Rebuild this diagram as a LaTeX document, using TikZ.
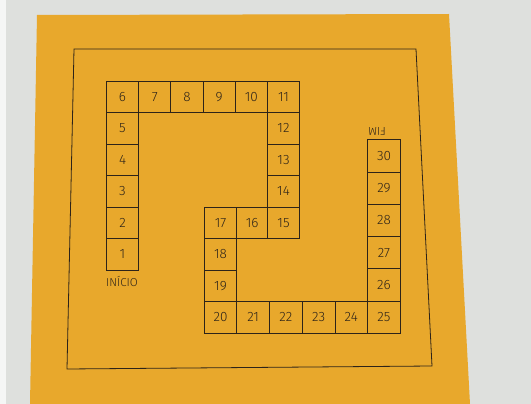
\documentclass[tikz,border=0pt]{standalone}
\usepackage{fontspec}
\setmainfont{Fira Sans Light}
\begin{document}
\begin{tikzpicture}[x=1pt,y=-1pt,
  cell/.style={draw=ink,line width=0.8pt,minimum width=32.2pt,minimum height=31.5pt,inner sep=0pt,font=\fontsize{13.5}{13.5}\selectfont,text=ink},
  wcell/.style={cell,minimum width=32.7pt},
  ncell/.style={cell,minimum width=30.55pt},
  tcell/.style={cell,minimum height=32.3pt,minimum width=32.7pt},
  lbl/.style={font=\fontsize{11.5}{11.5}\selectfont,text=ink,inner sep=0pt}]
\definecolor{paper}{RGB}{232,168,44}
\definecolor{bg}{RGB}{222,224,221}
\definecolor{ink}{RGB}{45,35,25}
\useasboundingbox (0,0) rectangle (531,404);
\fill[bg] (0,0) rectangle (531,404);
\fill[white!70!bg] (0,0) rectangle (6,404);
\fill[paper] (37,15) -- (449,14) -- (470,404) -- (30,404) -- cycle;
\draw[ink,line width=0.8pt] (74,49) -- (416,49) -- (432,366) -- (67,369) -- cycle;
% top row
\node[cell] (c6)  at (122.5,96.75) {6};
\node[cell] (c7)  at (154.7,96.75) {7};
\node[cell] (c8)  at (186.9,96.75) {8};
\node[cell] (c9)  at (219.1,96.75) {9};
\node[cell] (c10) at (251.3,96.75) {10};
\node[cell] (c11) at (283.5,96.75) {11};
% left column
\node[cell] (c5) at (122.5,128.25) {5};
\node[cell] (c4) at (122.5,159.75) {4};
\node[cell] (c3) at (122.5,191.25) {3};
\node[cell] (c2) at (122.5,222.75) {2};
\node[cell] (c1) at (122.5,254.25) {1};
% middle column
\node[cell] (c12) at (283.5,128.25) {12};
\node[cell] (c13) at (283.5,159.75) {13};
\node[cell] (c14) at (283.5,191.25) {14};
\node[cell] (c15) at (283.5,222.75) {15};
\node[ncell] (c16) at (252.125,222.75) {16};
\node[wcell] (c17) at (220.5,222.75) {17};
\node[wcell] (c18) at (220.5,254.25) {18};
\node[wcell] (c19) at (220.5,285.75) {19};
% bottom row
\node[wcell] (c20) at (220.5,317.25) {20};
\node[wcell] (c21) at (253.2,317.25) {21};
\node[wcell] (c22) at (285.9,317.25) {22};
\node[wcell] (c23) at (318.6,317.25) {23};
\node[wcell] (c24) at (351.3,317.25) {24};
\node[wcell] (c25) at (384,317.25) {25};
% right column
\node[tcell] (c26) at (384,285) {26};
\node[tcell] (c27) at (384,252.7) {27};
\node[tcell] (c28) at (384,220.4) {28};
\node[tcell] (c29) at (384,188.1) {29};
\node[tcell] (c30) at (384,155.8) {30};
\node[lbl] (inicio) at (122,281) {INÍCIO};
\node[lbl,rotate=180] (fim) at (377,131) {FIM};
\end{tikzpicture}
\end{document}
